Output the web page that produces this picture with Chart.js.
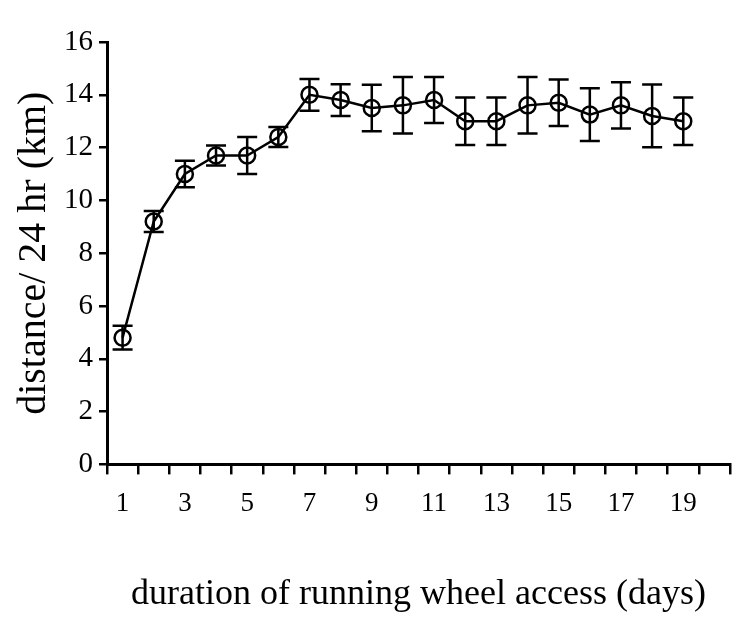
<!DOCTYPE html>
<html>
<head>
<meta charset="utf-8">
<script src="https://cdn.jsdelivr.net/npm/chart.js@4"></script>
<style>
  html, body { margin: 0; padding: 0; background: #fff; }
  #wrap { width: 750px; height: 628px; }
</style>
</head>
<body>
<div id="wrap"><canvas id="wheel"></canvas></div>
<script>
// days on the x axis (20 slots, last one is empty like the original)
const days = ['1','2','3','4','5','6','7','8','9','10','11','12','13','14','15','16','17','18','19','20']
const distance = [4.8, 9.2, 11.0, 11.7, 11.7, 12.4, 14.0, 13.8, 13.5, 13.6, 13.8, 13.0, 13.0, 13.6, 13.7, 13.25, 13.6, 13.2, 13.0, null]
const errors = [0.45, 0.4, 0.5, 0.38, 0.7, 0.38, 0.6, 0.6, 0.88, 1.07, 0.87, 0.9, 0.9, 1.07, 0.88, 1.0, 0.88, 1.19, 0.9, null]
const yTicks = [0, 2, 4, 6, 8, 10, 12, 14, 16]

const font = "'Liberation Serif', 'Times New Roman', serif"

const errorBars = {
  id: 'errorBars',
  afterDatasetsDraw(chart) {
    const { ctx, scales: { y } } = chart
    const meta = chart.getDatasetMeta(0)
    ctx.save()
    ctx.strokeStyle = '#000'
    ctx.lineWidth = 2.5
    meta.data.forEach((pt, i) => {
      const v = distance[i], e = errors[i]
      if (v == null || e == null) return
      const top = y.getPixelForValue(v + e)
      const bot = y.getPixelForValue(v - e)
      const half = 10
      ctx.beginPath()
      ctx.moveTo(pt.x, top); ctx.lineTo(pt.x, bot)
      ctx.moveTo(pt.x - half, top); ctx.lineTo(pt.x + half, top)
      ctx.moveTo(pt.x - half, bot); ctx.lineTo(pt.x + half, bot)
      ctx.stroke()
    })
    ctx.restore()
  }
}

new Chart(document.querySelector('#wheel'), {
  type: 'line',
  data: {
    labels: days,
    datasets: [{
      data: distance,
      borderColor: '#000',
      borderWidth: 2.5,
      pointRadius: 8,
      pointBorderWidth: 2.5,
      pointBorderColor: '#000',
      pointBackgroundColor: 'rgba(0,0,0,0)',
      tension: 0,
    }],
  },
  options: {
    responsive: true,
    maintainAspectRatio: false,
    animation: false,
    layout: { padding: { top: 42, right: 20, left: 6, bottom: 8 } },
    plugins: { legend: { display: false }, tooltip: { enabled: false } },
    scales: {
      x: {
        type: 'category',
        offset: true,
        grid: { offset: true, drawOnChartArea: false, drawTicks: true, tickLength: 10, color: '#000', lineWidth: 2.5 },
        border: { color: '#000', width: 3 },
        ticks: {
          autoSkip: false,
          maxRotation: 0,
          color: '#000',
          font: { family: font, size: 27 },
          padding: 13,
          callback: (val, i) => (i % 2 === 0 ? days[i] : ''),
        },
        title: {
          display: true,
          text: 'duration of running wheel access (days)',
          color: '#000',
          font: { family: font, size: 36 },
          padding: { top: 40 },
        },
      },
      y: {
        min: 0,
        max: 16,
        afterBuildTicks: axis => { axis.ticks = yTicks.map(value => ({ value })) },
        grid: { drawOnChartArea: false, drawTicks: true, tickLength: 8, color: '#000', lineWidth: 2.5 },
        border: { color: '#000', width: 3 },
        ticks: { color: '#000', font: { family: font, size: 29 }, padding: 6 },
        title: {
          display: true,
          text: 'distance/ 24 hr (km)',
          color: '#000',
          font: { family: font, size: 40 },
          padding: { bottom: 0 },
        },
      },
    },
  },
  plugins: [errorBars],
})
</script>
</body>
</html>
